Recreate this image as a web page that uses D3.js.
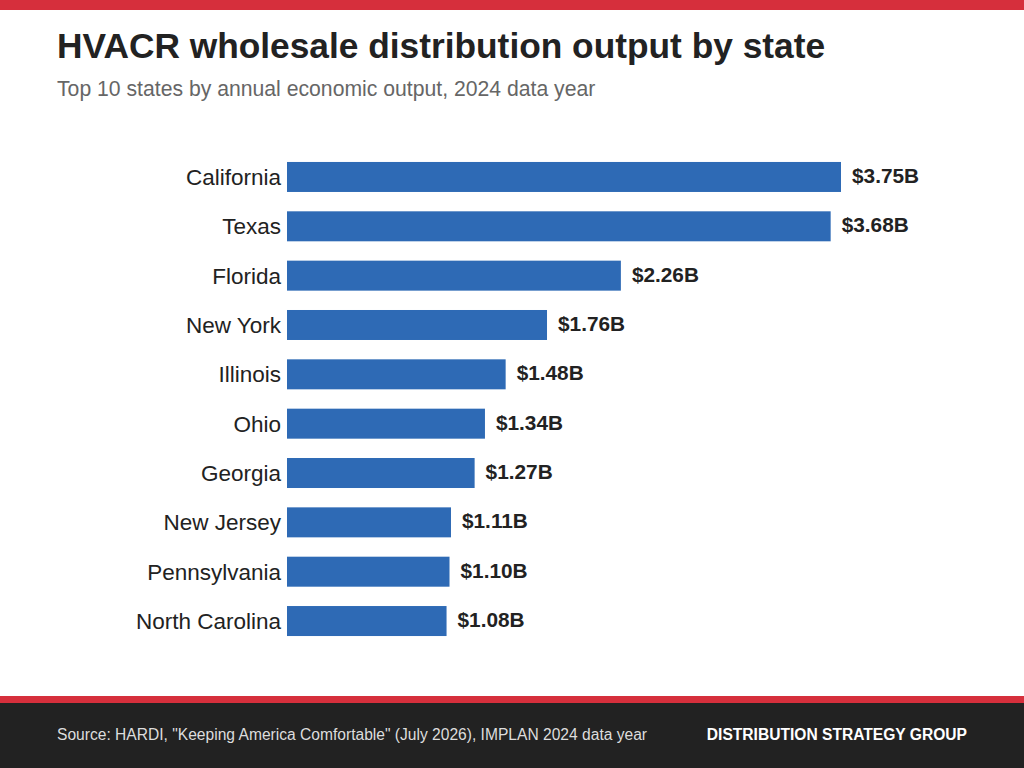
<!DOCTYPE html>
<html>
<head>
<meta charset="utf-8">
<script src="https://cdn.jsdelivr.net/npm/d3@7"></script>
<style>
  body { margin: 0; background: #fff; }
  svg { display: block; font-family: "Liberation Sans", Arial, sans-serif; }
</style>
</head>
<body>
<svg width="1024" height="768"></svg>
<script>
const states = ['California', 'Texas', 'Florida', 'New York', 'Illinois',
    'Ohio', 'Georgia', 'New Jersey', 'Pennsylvania', 'North Carolina'];
const output = [3.75, 3.68, 2.26, 1.76, 1.48, 1.34, 1.27, 1.11, 1.10, 1.08];

const data = states.map((s, i) => ({ state: s, value: output[i] }));

const svg = d3.select('svg');

// top accent
svg.append('rect').attr('x', 0).attr('y', 0).attr('width', 1024).attr('height', 10)
    .attr('fill', '#d62f3c');

svg.append('text').attr('x', 57).attr('y', 58)
    .attr('font-size', 35.3).attr('font-weight', 'bold').attr('fill', '#222')
    .text('HVACR wholesale distribution output by state');

svg.append('text').attr('x', 57).attr('y', 96)
    .attr('font-size', 21.2).attr('fill', '#666')
    .text('Top 10 states by annual economic output, 2024 data year');

const xScale = d3.scaleLinear()
    .domain([0, 3.75])
    .range([287, 841]);

const yScale = d3.scaleBand()
    .domain(states)
    .range([152.3, 645.7])
    .paddingInner(0.392)
    .paddingOuter(0.196);

const chart = svg.append('g');

const barGroups = chart.selectAll()
    .data(data)
    .enter()
    .append('g');

barGroups.append('rect')
    .attr('x', xScale(0))
    .attr('y', (d) => yScale(d.state))
    .attr('width', (d) => xScale(d.value) - xScale(0))
    .attr('height', yScale.bandwidth())
    .attr('fill', '#2e6ab5');

barGroups.append('text')
    .attr('x', xScale(0) - 6)
    .attr('y', (d) => yScale(d.state) + yScale.bandwidth() / 2 + 8)
    .attr('text-anchor', 'end')
    .attr('font-size', 22.5)
    .attr('fill', '#222')
    .text((d) => d.state);

barGroups.append('text')
    .attr('x', (d) => xScale(d.value) + 11)
    .attr('y', (d) => yScale(d.state) + yScale.bandwidth() / 2 + 6)
    .attr('font-size', 20.8)
    .attr('font-weight', 'bold')
    .attr('fill', '#222')
    .text((d) => '$' + d.value.toFixed(2) + 'B');

// footer
svg.append('rect').attr('x', 0).attr('y', 696).attr('width', 1024).attr('height', 7)
    .attr('fill', '#d62f3c');
svg.append('rect').attr('x', 0).attr('y', 703).attr('width', 1024).attr('height', 65)
    .attr('fill', '#222');

svg.append('text').attr('x', 57).attr('y', 740)
    .attr('font-size', 15.6).attr('fill', '#ddd')
    .text('Source: HARDI, "Keeping America Comfortable" (July 2026), IMPLAN 2024 data year');

svg.append('text').attr('x', 967).attr('y', 740)
    .attr('text-anchor', 'end')
    .attr('font-size', 15.6).attr('font-weight', 'bold').attr('fill', '#fff')
    .text('DISTRIBUTION STRATEGY GROUP');
</script>
</body>
</html>
